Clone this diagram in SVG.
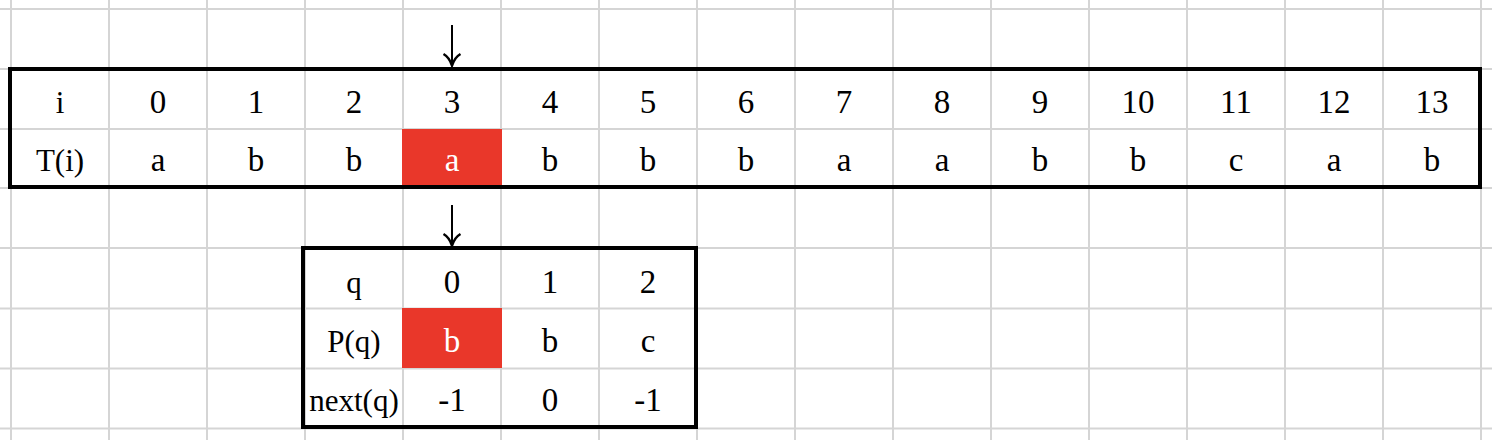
<svg xmlns="http://www.w3.org/2000/svg" width="1492" height="440" viewBox="0 0 1492 440">
  <style>
    .grid line { stroke: #d5d5d5; stroke-width: 2; }
    .frame { fill: none; stroke: #000; stroke-width: 4; }
    .hl { fill: #e9372a; }
    text { font-family: "Liberation Serif", "Times New Roman", serif; text-anchor: middle; fill: #000; }
    .lab { font-size: 31px; }
    .val { font-size: 33px; }
    .on { fill: #fff; }
    .arrow { stroke: #000; stroke-width: 2; fill: none; }
  </style>
  <rect width="1492" height="440" fill="#fff"/>
  <g id="grid" class="grid">
    <line x1="11" y1="0" x2="11" y2="440"/>
    <line x1="109" y1="0" x2="109" y2="440"/>
    <line x1="207" y1="0" x2="207" y2="440"/>
    <line x1="305" y1="0" x2="305" y2="440"/>
    <line x1="403" y1="0" x2="403" y2="440"/>
    <line x1="501" y1="0" x2="501" y2="440"/>
    <line x1="599" y1="0" x2="599" y2="440"/>
    <line x1="697" y1="0" x2="697" y2="440"/>
    <line x1="795" y1="0" x2="795" y2="440"/>
    <line x1="893" y1="0" x2="893" y2="440"/>
    <line x1="991" y1="0" x2="991" y2="440"/>
    <line x1="1089" y1="0" x2="1089" y2="440"/>
    <line x1="1187" y1="0" x2="1187" y2="440"/>
    <line x1="1285" y1="0" x2="1285" y2="440"/>
    <line x1="1383" y1="0" x2="1383" y2="440"/>
    <line x1="1481" y1="0" x2="1481" y2="440"/>
    <line x1="0" y1="9" x2="1492" y2="9"/>
    <line x1="0" y1="69" x2="1492" y2="69"/>
    <line x1="0" y1="129" x2="1492" y2="129"/>
    <line x1="0" y1="188" x2="1492" y2="188"/>
    <line x1="0" y1="248" x2="1492" y2="248"/>
    <line x1="0" y1="308.5" x2="1492" y2="308.5"/>
    <line x1="0" y1="368.5" x2="1492" y2="368.5"/>
    <line x1="0" y1="428.5" x2="1492" y2="428.5"/>
  </g>

  <g id="text-table">
    <rect class="hl" x="402" y="129" width="100" height="59"/>
    <rect class="frame" x="10" y="69" width="1470" height="118"/>
    <text class="lab" x="60" y="112.5">i</text>
    <text class="val" x="158" y="112.5">0</text>
    <text class="val" x="256" y="112.5">1</text>
    <text class="val" x="354" y="112.5">2</text>
    <text class="val" x="452" y="112.5">3</text>
    <text class="val" x="550" y="112.5">4</text>
    <text class="val" x="648" y="112.5">5</text>
    <text class="val" x="746" y="112.5">6</text>
    <text class="val" x="844" y="112.5">7</text>
    <text class="val" x="942" y="112.5">8</text>
    <text class="val" x="1040" y="112.5">9</text>
    <text class="val" x="1138" y="112.5">10</text>
    <text class="val" x="1236" y="112.5">11</text>
    <text class="val" x="1334" y="112.5">12</text>
    <text class="val" x="1432" y="112.5">13</text>
    <text class="lab" x="60" y="171">T(i)</text>
    <text class="val" x="158" y="171">a</text>
    <text class="val" x="256" y="171">b</text>
    <text class="val" x="354" y="171">b</text>
    <text class="val on" x="452" y="171">a</text>
    <text class="val" x="550" y="171">b</text>
    <text class="val" x="648" y="171">b</text>
    <text class="val" x="746" y="171">b</text>
    <text class="val" x="844" y="171">a</text>
    <text class="val" x="942" y="171">a</text>
    <text class="val" x="1040" y="171">b</text>
    <text class="val" x="1138" y="171">b</text>
    <text class="val" x="1236" y="171">c</text>
    <text class="val" x="1334" y="171">a</text>
    <text class="val" x="1432" y="171">b</text>
  </g>

  <g id="pattern-table">
    <rect class="hl" x="402" y="308" width="100" height="60"/>
    <rect class="frame" x="303" y="248" width="393" height="179"/>
    <text class="lab" x="354" y="292.5">q</text>
    <text class="val" x="452" y="292.5">0</text>
    <text class="val" x="550" y="292.5">1</text>
    <text class="val" x="648" y="292.5">2</text>
    <text class="lab" x="354" y="351.5">P(q)</text>
    <text class="val on" x="452" y="351.5">b</text>
    <text class="val" x="550" y="351.5">b</text>
    <text class="val" x="648" y="351.5">c</text>
    <text class="lab" x="354" y="411">next(q)</text>
    <text class="val" x="452" y="411">-1</text>
    <text class="val" x="550" y="411">0</text>
    <text class="val" x="648" y="411">-1</text>
  </g>

  <g id="connectors">
    <g class="arrow">
      <line x1="452" y1="25" x2="452" y2="64"/>
      <path d="M443.5,54 Q449,57 452,65.5 Q455,57 460.5,54" stroke-width="2.5"/>
    </g>
    <g class="arrow">
      <line x1="452" y1="205" x2="452" y2="244"/>
      <path d="M443.5,234 Q449,237 452,245.5 Q455,237 460.5,234" stroke-width="2.5"/>
    </g>
  </g>
</svg>
